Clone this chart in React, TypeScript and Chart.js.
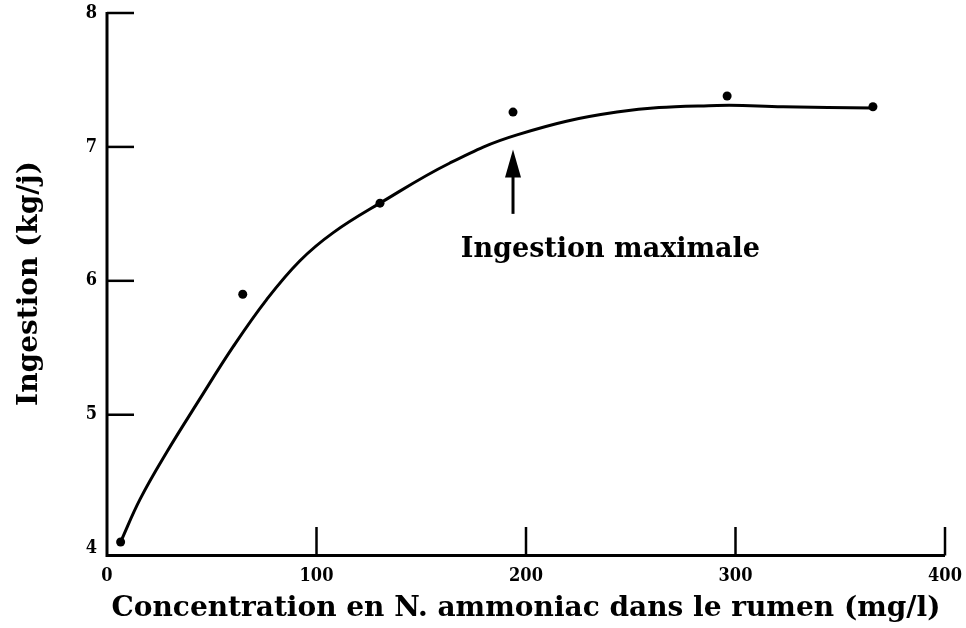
import React, { useEffect, useRef } from "react";
import { Chart, registerables } from "chart.js";

Chart.register(...registerables);

// ---- Data ----
const xTitle = "Concentration en N. ammoniac dans le rumen (mg/l)";
const yTitle = "Ingestion (kg/j)";
const annotationText = "Ingestion maximale";

const xTickValues = [0, 100, 200, 300, 400];
const yTickValues = [4, 5, 6, 7, 8];
const xTickMarks = [100, 200, 300, 400];
const yTickMarks = [5, 6, 7, 8];

// observed points
const obsX = [6.5, 64.8, 130.3, 193.8, 296, 365.6];
const obsY = [4.05, 5.9, 6.58, 7.26, 7.38, 7.3];

// fitted curve
const fitX = [6.5, 15.8, 28.5, 44.4, 60.3, 76.2, 92.1, 108.0, 130.3, 163.7, 195.7, 243.4, 291.2, 322.7, 365.6];
const fitY = [4.05, 4.37, 4.72, 5.12, 5.51, 5.86, 6.15, 6.36, 6.58, 6.88, 7.09, 7.26, 7.31, 7.3, 7.29];

// annotation (data coordinates)
const arrowX = 193.8;
const arrowTipY = 6.98;
const arrowBaseY = 6.5;
const labelX = 240.3;
const labelY = 6.18;

const SERIF = "'DejaVu Serif', 'Liberation Serif', serif";
const TICK_FONT = "'DejaVu Serif Condensed', 'DejaVu Serif', serif";

const customPlugin = {
  id: "customAxes",
  afterDatasetsDraw(chart: any) {
    const { ctx, chartArea, scales } = chart;
    const xs = scales.x;
    const ys = scales.y;
    ctx.save();
    ctx.strokeStyle = "#000";
    ctx.fillStyle = "#000";
    ctx.lineCap = "butt";
    // axes
    ctx.lineWidth = 3;
    ctx.beginPath();
    ctx.moveTo(chartArea.left, chartArea.top - 1);
    ctx.lineTo(chartArea.left, chartArea.bottom + 1.5);
    ctx.lineTo(chartArea.right, chartArea.bottom + 1.5);
    ctx.stroke();
    // inward ticks
    ctx.lineWidth = 2.5;
    const tl = 27;
    yTickMarks.forEach((v) => {
      const py = ys.getPixelForValue(v);
      ctx.beginPath();
      ctx.moveTo(chartArea.left, py);
      ctx.lineTo(chartArea.left + tl, py);
      ctx.stroke();
    });
    xTickMarks.forEach((v) => {
      const px = xs.getPixelForValue(v);
      ctx.beginPath();
      ctx.moveTo(px, chartArea.bottom + 1.5);
      ctx.lineTo(px, chartArea.bottom - tl);
      ctx.stroke();
    });
    // arrow
    const ax = xs.getPixelForValue(arrowX);
    const tipY = ys.getPixelForValue(arrowTipY);
    const baseY = ys.getPixelForValue(arrowBaseY);
    ctx.lineWidth = 3;
    ctx.beginPath();
    ctx.moveTo(ax, baseY);
    ctx.lineTo(ax, tipY + 20);
    ctx.stroke();
    ctx.beginPath();
    ctx.moveTo(ax, tipY);
    ctx.lineTo(ax - 8, tipY + 28);
    ctx.lineTo(ax + 8, tipY + 28);
    ctx.closePath();
    ctx.fill();
    // label
    ctx.font = "bold 27px " + SERIF;
    ctx.textAlign = "center";
    ctx.textBaseline = "alphabetic";
    ctx.fillText(annotationText, xs.getPixelForValue(labelX), ys.getPixelForValue(labelY));
    ctx.restore();
  },
};

export default function App() {
  const canvasRef = useRef<HTMLCanvasElement | null>(null);

  useEffect(() => {
    if (!canvasRef.current) return;
    const chart = new Chart(canvasRef.current, {
      type: "scatter",
      data: {
        datasets: [
          {
            type: "line",
            label: "fit",
            data: fitX.map((x, i) => ({ x, y: fitY[i] })),
            borderColor: "#000",
            borderWidth: 3,
            pointRadius: 0,
            tension: 0.4,
            fill: false,
          } as any,
          {
            label: "obs",
            data: obsX.map((x, i) => ({ x, y: obsY[i] })),
            backgroundColor: "#000",
            borderColor: "#000",
            pointRadius: 4.5,
            pointBorderWidth: 0,
          },
        ],
      },
      options: {
        animation: false,
        responsive: true,
        maintainAspectRatio: false,
        layout: { padding: { top: 13, right: 21, left: 0, bottom: 0 } },
        plugins: { legend: { display: false }, tooltip: { enabled: false } },
        scales: {
          x: {
            type: "linear",
            min: 0,
            max: 400,
            afterBuildTicks: (s: any) => {
              s.ticks = xTickValues.map((v) => ({ value: v }));
            },
            afterFit: (s: any) => {
              s.height = 74;
              s.paddingLeft = 0;
              s.paddingRight = 0;
            },
            grid: { display: false, drawTicks: false },
            border: { display: false },
            ticks: {
              padding: 12,
              color: "#000",
              font: { family: TICK_FONT, size: 18, weight: "bold" },
              maxRotation: 0,
            },
            title: {
              display: true,
              text: xTitle,
              color: "#000",
              font: { family: SERIF, size: 28, weight: "bold" },
              padding: { top: 0, bottom: 2 },
            },
          },
          y: {
            type: "linear",
            min: 3.96,
            max: 8,
            afterBuildTicks: (s: any) => {
              s.ticks = yTickValues.map((v) => ({ value: v }));
            },
            afterFit: (s: any) => {
              s.width = 107;
              s.paddingTop = 0;
              s.paddingBottom = 0;
            },
            grid: { display: false, drawTicks: false },
            border: { display: false },
            ticks: {
              padding: 10,
              color: "#000",
              font: { family: TICK_FONT, size: 18, weight: "bold" },
            },
            title: {
              display: true,
              text: yTitle,
              color: "#000",
              font: { family: SERIF, size: 28, weight: "bold" },
              padding: { top: 13, bottom: 0 },
            },
          },
        },
      },
      plugins: [customPlugin],
    });
    return () => chart.destroy();
  }, []);

  return (
    <div style={{ position: "fixed", left: 0, top: 0, width: 966, height: 628, background: "#fff" }}>
      <canvas ref={canvasRef} />
    </div>
  );
}
